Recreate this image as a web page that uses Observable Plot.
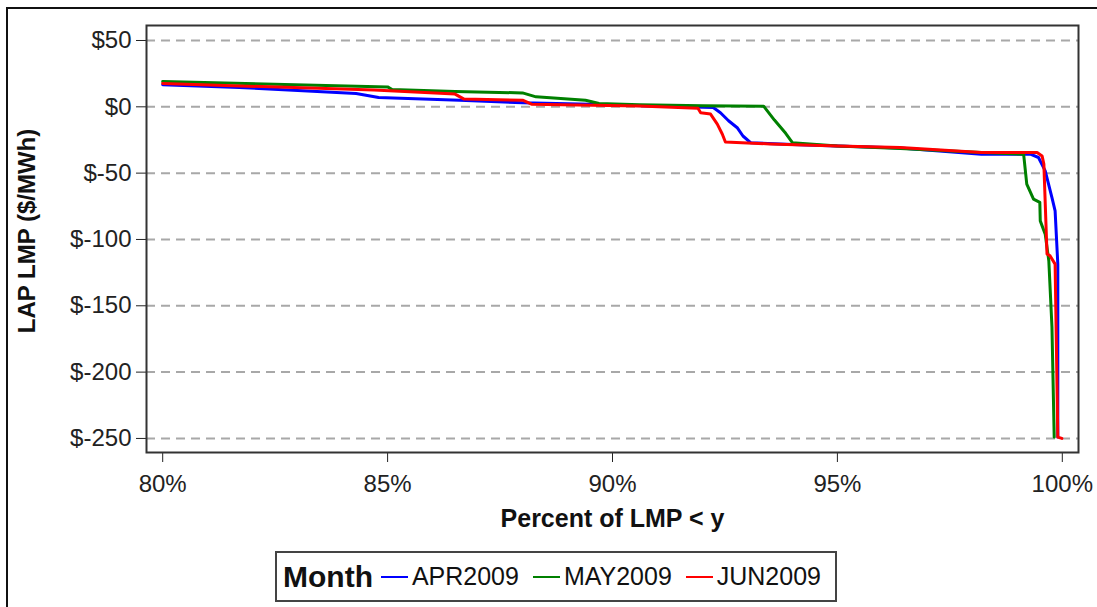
<!DOCTYPE html>
<html>
<head>
<meta charset="utf-8">
<script src="https://cdn.jsdelivr.net/npm/d3@7"></script>
<script src="https://cdn.jsdelivr.net/npm/@observablehq/plot@0.6"></script>
<style>
  html, body { margin: 0; padding: 0; background: #fff; overflow: hidden; }
  #wrap { position: relative; width: 1097px; height: 607px; }
  #outer { position: absolute; left: 6px; top: 7px; width: 1200px; height: 700px; border: 2px solid #111; box-sizing: border-box; }
  #chart { position: absolute; left: 0; top: 0; }
  #legend { position: absolute; left: 275px; top: 551px; width: 562px; height: 51px; box-sizing: border-box;
            border: 2px solid #444; background: #fff; display: flex; align-items: center;
            font-family: 'Liberation Sans', Arial, sans-serif; color: #111; }
  #legend .title { font-weight: bold; font-size: 30px; margin-left: 6px; margin-right: 8px; }
  #legend .sw { display: inline-block; width: 28px; height: 2px; margin-right: 4px; }
  #legend .lab { font-size: 25px; margin-right: 14px; }
</style>
</head>
<body>
<div id="wrap">
  <div id="outer"></div>
  <div id="chart"></div>
  <div id="legend"></div>
</div>
<script>
// ---- data ----
const months = ["APR2009", "MAY2009", "JUN2009"];
const monthColors = ["#0000ff", "#008000", "#ff0000"];
const xTicks = [80, 85, 90, 95, 100];
const yTicks = [50, 0, -50, -100, -150, -200, -250];
const xTitle = "Percent of LMP < y";
const yTitle = "LAP LMP ($/MWh)";
const legendTitle = "Month";

const aprPct = [80, 81.7, 84.3, 84.8, 86.6, 88.0, 89.5, 90.5, 92.24, 92.4, 92.58, 92.78, 92.9, 93.07, 94, 95, 96.4, 98.2, 99.29, 99.47, 99.62, 99.77, 99.84, 99.9, 99.9];
const aprLmp = [16.6, 14.6, 10, 7, 5, 3, 2, 1, -0.5, -4.5, -10.5, -16, -22, -27, -28.5, -29.5, -31, -35.7, -35.7, -38.2, -48.3, -68.4, -78.4, -118.6, -249];

const mayPct = [80, 85, 85.1, 86.5, 88, 88.3, 89.4, 89.7, 90.6, 92, 93.36, 93.6, 93.85, 94.0, 95, 96.4, 98.2, 99.14, 99.21, 99.36, 99.5, 99.51, 99.62, 99.7, 99.77, 99.82];
const mayLmp = [19, 15, 13, 11.5, 10.5, 7.5, 5, 2.5, 1.5, 0.8, 0.5, -10, -20, -27, -29.5, -31.5, -34.5, -35.7, -58.3, -69.6, -72, -86, -96, -116, -166, -249];

const junPct = [80, 84.7, 86.5, 86.7, 88.0, 88.2, 90.6, 91.9, 91.96, 92.18, 92.33, 92.44, 92.51, 93.5, 95, 96.4, 98.2, 99.44, 99.55, 99.59, 99.66, 99.73, 99.84, 99.9, 99.99];
const junLmp = [17.6, 12.6, 9.6, 5.8, 5, 2, 0.7, -1, -4.5, -5.5, -13, -20.5, -26.5, -28, -29.5, -30.7, -34.4, -34.4, -37, -43.2, -111, -112.4, -118.6, -249, -250];

// ---- build table ----
const series = [[aprPct, aprLmp], [mayPct, mayLmp], [junPct, junLmp]];
const rows = [];
series.forEach(([p, v], i) => p.forEach((x, j) => rows.push({month: months[i], pct: x, lmp: v[j]})));

const plot = Plot.plot({
  width: 1097,
  height: 545,
  marginLeft: 146,
  marginRight: 19,
  marginTop: 25,
  marginBottom: 93,
  style: {background: "transparent", fontFamily: "'Liberation Sans', Arial, sans-serif", fontSize: "24px", color: "#222", overflow: "visible"},
  x: {domain: [79.64, 100.36], ticks: xTicks, tickFormat: d => d + "%", tickSize: 10, tickPadding: 12, label: null},
  y: {domain: [-260.6, 61.3], ticks: yTicks, tickFormat: d => "$" + d, tickSize: 10, tickPadding: 5, label: null},
  color: {domain: months, range: monthColors},
  marks: [
    Plot.ruleY(yTicks, {stroke: "#a8a8a8", strokeWidth: 2, strokeDasharray: "9,6"}),
    Plot.line(rows, {x: "pct", y: "lmp", z: "month", stroke: "month", strokeWidth: 3, strokeLinejoin: "round"}),
    Plot.frame({stroke: "#333", strokeWidth: 2}),
    Plot.text([xTitle], {frameAnchor: "bottom", textAnchor: "middle", dy: 74, fontSize: 25, fontWeight: "bold", fill: "#111"}),
    Plot.text([yTitle], {frameAnchor: "left", textAnchor: "middle", dx: -119, dy: -8, rotate: -90, fontSize: 24, fontWeight: "bold", fill: "#111"})
  ]
});
document.getElementById("chart").appendChild(plot);

// ---- legend ----
const lg = document.getElementById("legend");
const t = document.createElement("span");
t.className = "title"; t.textContent = legendTitle; lg.appendChild(t);
months.forEach((m, i) => {
  const s = document.createElement("span");
  s.className = "sw"; s.style.background = monthColors[i]; lg.appendChild(s);
  const l = document.createElement("span");
  l.className = "lab"; l.textContent = m; lg.appendChild(l);
});
</script>
</body>
</html>
